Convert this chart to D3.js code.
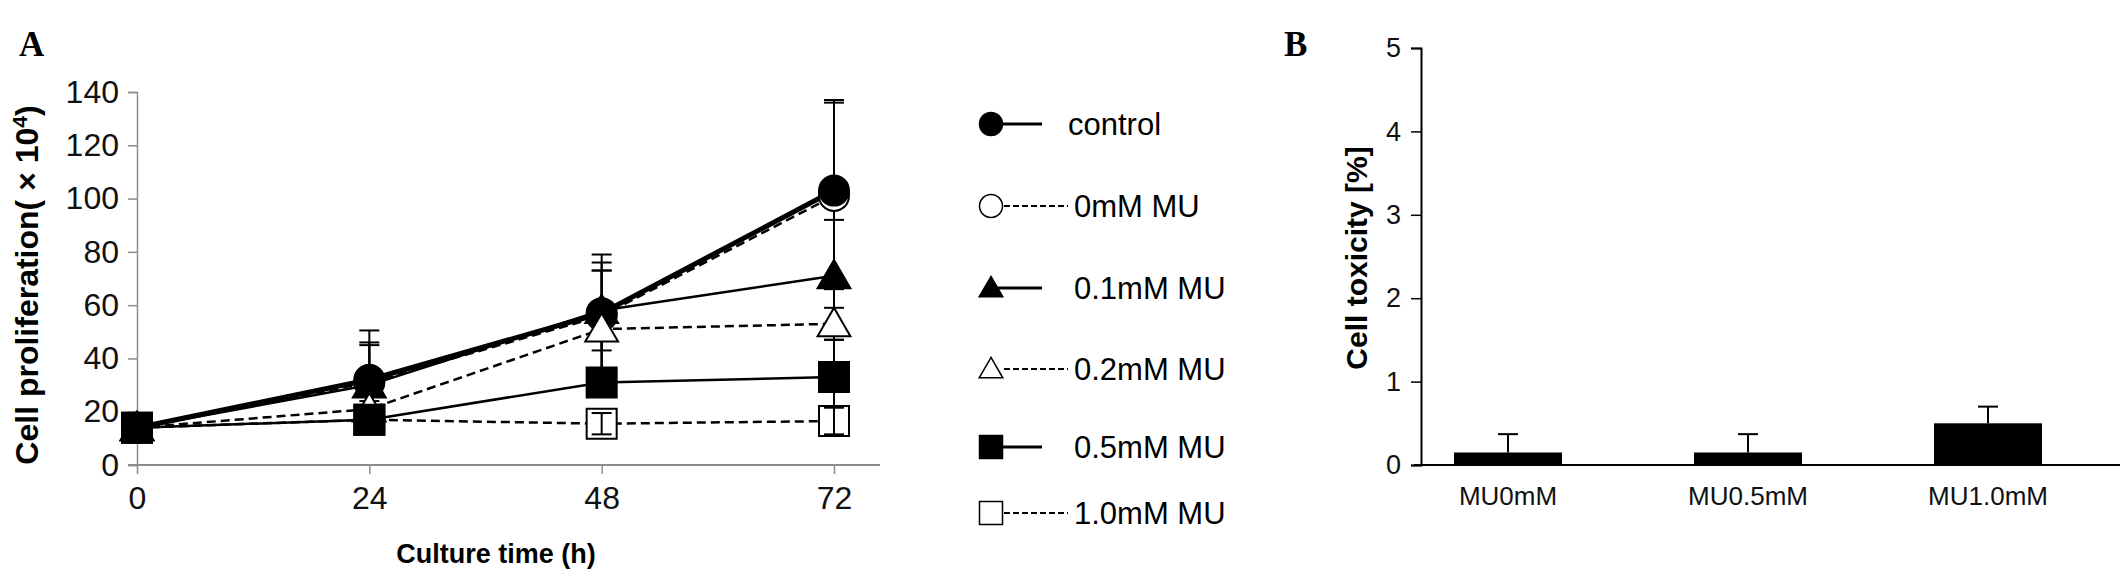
<!DOCTYPE html>
<html>
<head>
<meta charset="utf-8">
<script src="https://cdn.jsdelivr.net/npm/d3@7"></script>
<style>
  body { margin: 0; background: #fff; }
  text { font-family: "Liberation Sans", Arial, sans-serif; }
</style>
</head>
<body>
<div id="chart"></div>
<script>
// ---- data: panel A ----
var hours = [0, 24, 48, 72];
var seriesNames = ["control", "0mM MU", "0.1mM MU", "0.2mM MU", "0.5mM MU", "1.0mM MU"];
var controlVals = [14, 32, 57, 103];
var mu0Vals     = [14, 31, 56, 101];
var mu01Vals    = [14, 30, 58, 71];
var mu02Vals    = [14, 21, 51, 53];
var mu05Vals    = [14, 17, 31, 33];
var mu10Vals    = [14, 17, 15.5, 16.5];
var controlErr = [1, 18.5, 22, 34];
var mu0Err     = [1, 14, 20, 35];
var mu01Err    = [1, 16, 15, 21];
var mu02Err    = [1, 3, 22, 6];
var mu05Err    = [1, 3, 5, 14];
var mu10Err    = [1, 2, 4, 5];
var yTicksA = [0, 20, 40, 60, 80, 100, 120, 140];

// ---- data: panel B ----
var toxCats = ["MU0mM", "MU0.5mM", "MU1.0mM"];
var toxVals = [0.15, 0.15, 0.5];
var toxErr  = [0.22, 0.22, 0.2];
var yTicksB = [0, 1, 2, 3, 4, 5];

var width = 2126, height = 577;

var svg = d3.select("#chart").append("svg")
    .attr("width", width)
    .attr("height", height);

// style per series: marker shape, filled or open, line style
var styles = [
  {shape: "circle",   filled: true,  dash: null,  lw: 5},
  {shape: "circle",   filled: false, dash: "9,5", lw: 2.5},
  {shape: "triangle", filled: true,  dash: null,  lw: 2.5},
  {shape: "triangle", filled: false, dash: "9,5", lw: 2.5},
  {shape: "square",   filled: true,  dash: null,  lw: 2.5},
  {shape: "square",   filled: false, dash: "9,5", lw: 2.5}
];
var allVals = [controlVals, mu0Vals, mu01Vals, mu02Vals, mu05Vals, mu10Vals];
var allErr  = [controlErr, mu0Err, mu01Err, mu02Err, mu05Err, mu10Err];

var series = seriesNames.map(function(n, i) {
  return {name: n, vals: allVals[i], err: allErr[i], st: styles[i]};
});

function markerPath(shape, size) {
  var sym = shape == "circle" ? d3.symbolCircle : (shape == "triangle" ? d3.symbolTriangle : d3.symbolSquare);
  var area;
  if (shape == "circle") area = Math.PI * (size / 2) * (size / 2);
  else if (shape == "square") area = size * size;
  else area = Math.sqrt(3) / 4 * size * size * 1.05;
  return d3.symbol().type(sym).size(area)();
}

// ================= panel A =================
var xA = d3.scaleLinear().domain([0, 72]).range([137, 834]);
var yA = d3.scaleLinear().domain([0, 140]).range([465, 92]);
var axisGray = "#8c8c8c";

svg.append("text")
  .attr("x", 19).attr("y", 56)
  .style("font-family", "'Liberation Serif', 'Times New Roman', serif")
  .style("font-weight", "bold")
  .style("font-size", "35px")
  .text("A");

// y axis
var gyA = svg.append("g").attr("transform", "translate(" + xA(0) + ",0)")
  .call(d3.axisLeft(yA).tickValues(yTicksA).tickSize(9).tickPadding(9));
gyA.select(".domain").attr("stroke", axisGray).attr("stroke-width", 1.5);
gyA.selectAll(".tick line").attr("stroke", axisGray).attr("stroke-width", 1.5);
gyA.selectAll(".tick text").style("font-size", "32px").attr("fill", "#111");

// x axis
var gxA = svg.append("g").attr("transform", "translate(0," + yA(0) + ")")
  .call(d3.axisBottom(xA).tickValues(hours).tickSize(9).tickSizeOuter(0).tickPadding(12));
gxA.select(".domain").remove();
gxA.append("line").attr("x1", 128).attr("x2", 880).attr("stroke", axisGray).attr("stroke-width", 2);
gxA.selectAll(".tick line").attr("stroke", axisGray).attr("stroke-width", 1.5);
gxA.selectAll(".tick text").style("font-size", "32px").attr("fill", "#111");

svg.append("text")
  .attr("x", 496).attr("y", 563)
  .attr("text-anchor", "middle")
  .style("font-weight", "bold")
  .style("font-size", "27px")
  .text("Culture time (h)");

var yTitleA = svg.append("text")
  .attr("transform", "translate(38,285) rotate(-90)")
  .attr("text-anchor", "middle")
  .style("font-weight", "bold")
  .style("font-size", "32px");
yTitleA.append("tspan").text("Cell proliferation( × 10");
yTitleA.append("tspan").attr("dy", -11).style("font-size", "21px").text("4");
yTitleA.append("tspan").attr("dy", 11).text(")");

var line = d3.line()
  .x(function(d, i) { return xA(hours[i]); })
  .y(function(d) { return yA(d); });

// lines
series.forEach(function(s) {
  svg.append("path")
    .datum(s.vals)
    .attr("d", line)
    .attr("fill", "none")
    .attr("stroke", "#000")
    .attr("stroke-width", s.st.lw)
    .attr("stroke-dasharray", s.st.dash);
});

function drawErr(s) {
  var g = svg.append("g");
  s.vals.forEach(function(v, i) {
    var x = xA(hours[i]);
    g.append("line")
      .attr("x1", x).attr("x2", x)
      .attr("y1", yA(v - s.err[i])).attr("y2", yA(v + s.err[i]))
      .attr("stroke", "#000").attr("stroke-width", 2);
    [v - s.err[i], v + s.err[i]].forEach(function(e) {
      g.append("line")
        .attr("x1", x - 10).attr("x2", x + 10)
        .attr("y1", yA(e)).attr("y2", yA(e))
        .attr("stroke", "#000").attr("stroke-width", 2);
    });
  });
}

// error bars
series.forEach(function(s, i) { if (i != 5) drawErr(s); });

// markers, drawn in an order that stacks like the original
var drawOrder = [5, 1, 0, 2, 3, 4];
drawOrder.forEach(function(k) {
  var s = series[k];
  svg.append("g").selectAll("path")
    .data(s.vals)
    .enter().append("path")
    .attr("d", markerPath(s.st.shape, s.st.shape == "triangle" ? 32 : 30))
    .attr("transform", function(d, i) {
      var dy = s.st.shape == "triangle" ? 3 : 0;
      return "translate(" + xA(hours[i]) + "," + (yA(d) + dy) + ")";
    })
    .attr("fill", s.st.filled ? "#000" : "#fff")
    .attr("stroke", "#000")
    .attr("stroke-width", 2);
});
drawErr(series[5]);

// legend
var legendY = [124, 206, 288, 369, 447, 513];
var legend = svg.append("g");
series.forEach(function(s, i) {
  var g = legend.append("g").attr("transform", "translate(0," + legendY[i] + ")");
  var mx = 991;
  if (s.st.filled) {
    g.append("line").attr("x1", mx).attr("x2", 1042).attr("y1", 0).attr("y2", 0)
      .attr("stroke", "#000").attr("stroke-width", 3);
  } else {
    g.append("line").attr("x1", mx + 13).attr("x2", 1068).attr("y1", 0).attr("y2", 0)
      .attr("stroke", "#000").attr("stroke-width", 2).attr("stroke-dasharray", "6,3");
  }
  g.append("path")
    .attr("d", markerPath(s.st.shape, 23))
    .attr("transform", "translate(" + mx + "," + (s.st.shape == "triangle" ? 2 : 0) + ")")
    .attr("fill", s.st.filled ? "#000" : "#fff")
    .attr("stroke", "#000").attr("stroke-width", 1.5);
  g.append("text")
    .attr("x", i == 0 ? 1068 : 1074)
    .attr("y", 11)
    .style("font-size", "31px")
    .text(s.name);
});

// ================= panel B =================
var xB = d3.scaleBand().domain(toxCats).range([1388, 2108]).paddingInner(0.55).paddingOuter(0.275);
var yB = d3.scaleLinear().domain([0, 5]).range([465, 48]);

svg.append("text")
  .attr("x", 1284).attr("y", 56)
  .style("font-family", "'Liberation Serif', 'Times New Roman', serif")
  .style("font-weight", "bold")
  .style("font-size", "35px")
  .text("B");

var gyB = svg.append("g").attr("transform", "translate(1421,0)")
  .call(d3.axisLeft(yB).tickValues(yTicksB).tickFormat(d3.format("d")).tickSize(10).tickPadding(10));
gyB.select(".domain").attr("stroke", "#000").attr("stroke-width", 2);
gyB.selectAll(".tick line").attr("stroke", "#000").attr("stroke-width", 1.5);
gyB.selectAll(".tick text").style("font-size", "27px").attr("fill", "#111");

var gxB = svg.append("g").attr("transform", "translate(0," + yB(0) + ")")
  .call(d3.axisBottom(xB).tickSize(0).tickPadding(22));
gxB.select(".domain").remove();
gxB.append("line").attr("x1", 1414).attr("x2", 2120).attr("stroke", "#000").attr("stroke-width", 2);
gxB.selectAll(".tick text").style("font-size", "26px").attr("fill", "#111");

svg.append("text")
  .attr("transform", "translate(1367,258) rotate(-90)")
  .attr("text-anchor", "middle")
  .style("font-weight", "bold")
  .style("font-size", "30px")
  .text("Cell toxicity [%]");

// error bars (upper only)
svg.append("g").selectAll("g")
  .data(toxCats)
  .enter().append("g")
  .each(function(c, i) {
    var g = d3.select(this);
    var cx = xB(c) + xB.bandwidth() / 2;
    g.append("line").attr("x1", cx).attr("x2", cx)
      .attr("y1", yB(toxVals[i])).attr("y2", yB(toxVals[i] + toxErr[i]))
      .attr("stroke", "#000").attr("stroke-width", 2);
    g.append("line").attr("x1", cx - 10).attr("x2", cx + 10)
      .attr("y1", yB(toxVals[i] + toxErr[i])).attr("y2", yB(toxVals[i] + toxErr[i]))
      .attr("stroke", "#000").attr("stroke-width", 2);
  });

svg.append("g").selectAll("rect")
  .data(toxVals)
  .enter().append("rect")
  .attr("x", function(d, i) { return xB(toxCats[i]); })
  .attr("y", function(d) { return yB(d); })
  .attr("width", xB.bandwidth())
  .attr("height", function(d) { return yB(0) - yB(d); })
  .attr("fill", "#000");
</script>
</body>
</html>
